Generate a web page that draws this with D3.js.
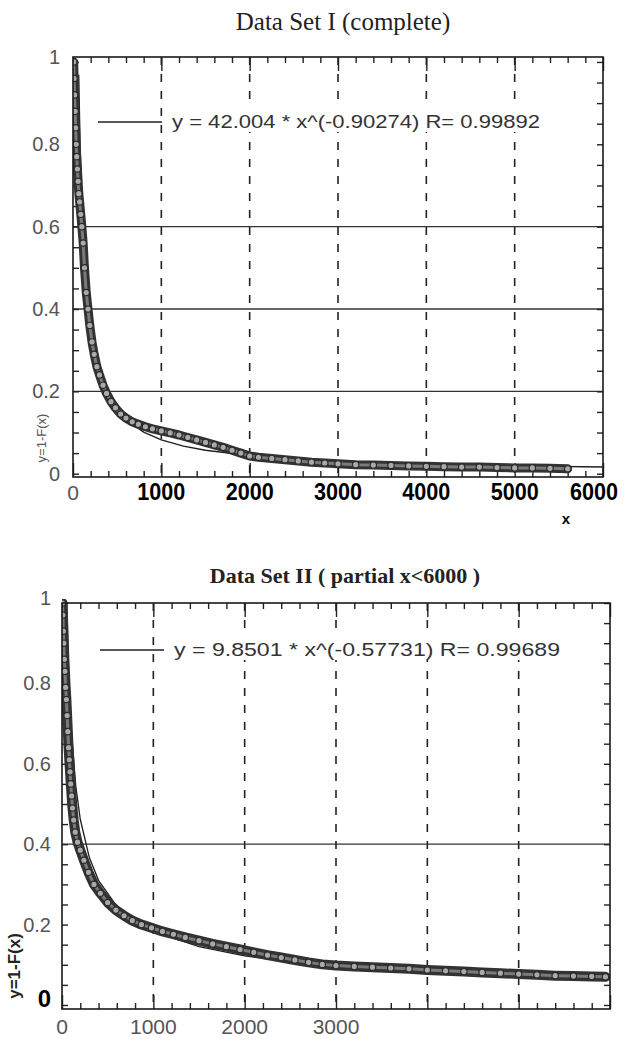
<!DOCTYPE html>
<html>
<head>
<meta charset="utf-8">
<script src="https://cdn.jsdelivr.net/npm/d3@7"></script>
<style>
  body { margin: 0; background: #fff; }
  svg { display: block; }
</style>
</head>
<body>
<svg id="chart" width="626" height="1042"></svg>
<script>
// ---- data ----
const titles = ["Data Set I (complete)", "Data Set II ( partial x<6000 )"];
const legendTexts = ["y = 42.004 * x^(-0.90274) R= 0.99892",
                     "y = 9.8501 * x^(-0.57731) R= 0.99689"];
const yTickValues = [0, 0.2, 0.4, 0.6, 0.8, 1];
const yTickLabels = ["0", "0.2", "0.4", "0.6", "0.8", "1"];
const xTickValuesOne = [0, 1000, 2000, 3000, 4000, 5000, 6000];
const xTickValuesTwo = [0, 1000, 2000, 3000];
const dashedX = [1000, 2000, 3000, 4000, 5000];
const guideYOne = [0.2, 0.4, 0.6];
const guideYTwo = [0.4];

// Set I, empirical 1-F(x)
const setOneX = [8, 12, 18, 24, 30, 36, 42, 50, 58, 66, 75, 88, 100, 115, 130, 150, 170, 190, 215, 240,
                 270, 300, 340, 380, 430, 480, 540, 600, 670, 740, 820, 900, 1000, 1100, 1200, 1300, 1400,
                 1500, 1600, 1700, 1800, 1900, 2000, 2100, 2250, 2400, 2550, 2700, 2850, 3000, 3200, 3400,
                 3600, 3800, 4000, 4200, 4400, 4600, 4800, 5000, 5200, 5400, 5600];
const setOneY = [1.0, 0.96, 0.92, 0.88, 0.84, 0.80, 0.77, 0.74, 0.71, 0.68, 0.66, 0.63, 0.60, 0.56, 0.50,
                 0.44, 0.40, 0.36, 0.32, 0.29, 0.26, 0.24, 0.215, 0.195, 0.175, 0.16, 0.145, 0.135, 0.126,
                 0.12, 0.114, 0.109, 0.104, 0.099, 0.094, 0.088, 0.082, 0.076, 0.07, 0.064, 0.057, 0.05,
                 0.043, 0.04, 0.037, 0.034, 0.031, 0.028, 0.026, 0.024, 0.022, 0.021, 0.02, 0.019, 0.018,
                 0.017, 0.016, 0.016, 0.015, 0.014, 0.014, 0.013, 0.012];
// Set I, fitted power curve
const fitOneX = [65, 80, 100, 130, 160, 200, 250, 300, 400, 500, 600, 800, 1000, 1250, 1500, 2000, 2500,
                 3000, 4000, 5000, 6000];
const fitOneY = [0.969, 0.804, 0.656, 0.519, 0.430, 0.352, 0.288, 0.244, 0.188, 0.154, 0.131, 0.101, 0.082,
                 0.067, 0.057, 0.044, 0.036, 0.0305, 0.0235, 0.0192, 0.0163];

// Set II, empirical 1-F(x)
const setTwoX = [5, 10, 15, 20, 26, 32, 40, 48, 56, 64, 72, 80, 88, 96, 105, 115, 128, 145, 170, 200, 240,
                 290, 350, 420, 500, 590, 680, 770, 870, 980, 1100, 1220, 1350, 1500, 1650, 1800, 1950, 2100,
                 2250, 2400, 2550, 2700, 2850, 3000, 3200, 3400, 3600, 3800, 4000, 4200, 4400, 4600, 4800,
                 5000, 5200, 5400, 5600, 5800, 5950];
const setTwoY = [1.0, 0.97, 0.93, 0.90, 0.86, 0.83, 0.79, 0.76, 0.72, 0.68, 0.64, 0.61, 0.58, 0.55, 0.52,
                 0.49, 0.46, 0.43, 0.405, 0.385, 0.36, 0.33, 0.30, 0.278, 0.255, 0.236, 0.222, 0.21, 0.2,
                 0.192, 0.183, 0.176, 0.168, 0.16, 0.152, 0.145, 0.138, 0.131, 0.124, 0.118, 0.112, 0.106,
                 0.101, 0.098, 0.096, 0.094, 0.092, 0.09, 0.087, 0.085, 0.083, 0.081, 0.079, 0.077, 0.075,
                 0.073, 0.072, 0.071, 0.07];
// Set II, fitted power curve
const fitTwoX = [53, 70, 100, 150, 200, 300, 400, 600, 800, 1000, 1500, 2000, 2500, 3000, 4000, 5000, 6000];
const fitTwoY = [1.0, 0.848, 0.692, 0.546, 0.462, 0.366, 0.310, 0.245, 0.208, 0.183, 0.145, 0.122, 0.107,
                 0.097, 0.082, 0.071, 0.065];

const svg = d3.select("#chart");

function drawPanel(p) {
    const x = d3.scaleLinear().domain([0, 6000]).range([p.left, p.right]);
    const y = d3.scaleLinear().domain(p.yDomain).range([p.bottom, p.top]);
    const g = svg.append("g").attr("class", "panel");

    // title
    g.append("text")
     .attr("x", p.titleX).attr("y", p.titleY)
     .attr("text-anchor", "middle")
     .style("font-family", "'Liberation Serif', 'DejaVu Serif', serif")
     .style("font-size", p.titleSize + "px")
     .style("font-weight", p.titleWeight)
     .style("fill", "#222")
     .text(p.title);

    // vertical dashed guides
    g.selectAll(".vdash").data(dashedX).join("line")
     .attr("x1", d => x(d)).attr("x2", d => x(d))
     .attr("y1", p.top).attr("y2", p.bottom)
     .style("stroke", "#222").style("stroke-width", 1.6)
     .style("stroke-dasharray", "8,9");

    // horizontal solid guides
    g.selectAll(".hline").data(p.guides).join("line")
     .attr("x1", p.left).attr("x2", p.right)
     .attr("y1", d => y(d)).attr("y2", d => y(d))
     .style("stroke", "#333").style("stroke-width", 1.3);

    // inward ticks on all four sides
    const minorX = d3.range(0, 6001, 200).filter(v => v % 1000 !== 0);
    const majorX = d3.range(0, 6001, 1000);
    const minorY = d3.range(0, 1.001, 0.05);
    const tickStyle = sel => {
        sel.select(".domain").remove();
        sel.selectAll("text").remove();
        sel.selectAll("line").style("stroke", "#222").style("stroke-width", 1.4);
    };
    g.append("g").attr("transform", `translate(0,${p.bottom})`)
     .call(d3.axisBottom(x).tickValues(minorX).tickSize(-6)).call(tickStyle);
    g.append("g").attr("transform", `translate(0,${p.bottom})`)
     .call(d3.axisBottom(x).tickValues(majorX).tickSize(-14)).call(tickStyle);
    g.append("g").attr("transform", `translate(0,${p.top})`)
     .call(d3.axisTop(x).tickValues(minorX).tickSize(-6)).call(tickStyle);
    g.append("g").attr("transform", `translate(0,${p.top})`)
     .call(d3.axisTop(x).tickValues(majorX).tickSize(-14)).call(tickStyle);
    g.append("g").attr("transform", `translate(${p.left},0)`)
     .call(d3.axisLeft(y).tickValues(minorY).tickSize(-6)).call(tickStyle);
    g.append("g").attr("transform", `translate(${p.right},0)`)
     .call(d3.axisRight(y).tickValues(minorY).tickSize(-6)).call(tickStyle);

    // data, clipped to the frame
    const clipId = "clip" + p.id;
    svg.append("clipPath").attr("id", clipId)
       .append("rect")
       .attr("x", p.left).attr("y", p.top - 4)
       .attr("width", p.right - p.left).attr("height", p.bottom - p.top + 4);
    const plot = g.append("g").attr("clip-path", `url(#${clipId})`);

    const pts = p.dataX.map((d, i) => [d, p.dataY[i]]);
    const fit = p.fitX.map((d, i) => [d, p.fitY[i]]);
    const line = d3.line().x(d => x(d[0])).y(d => y(d[1]));

    plot.append("path").datum(fit)
        .attr("d", line)
        .style("fill", "none").style("stroke", "#1e1e1e").style("stroke-width", 1.3);
    plot.append("path").datum(pts)
        .attr("d", line)
        .style("fill", "none").style("stroke", "#333")
        .style("stroke-width", p.bandWidth).style("stroke-linejoin", "round").style("stroke-linecap", "round");
    plot.append("path").datum(pts)
        .attr("d", line)
        .style("fill", "none").style("stroke", "#7a7a7a")
        .style("stroke-width", 3).style("stroke-linejoin", "round");
    plot.selectAll(".mk").data(pts).join("circle")
        .attr("cx", d => x(d[0])).attr("cy", d => y(d[1]))
        .attr("r", 3.2)
        .style("fill", "#a9a9a9").style("stroke", "#2a2a2a").style("stroke-width", 1.2);

    // frame
    g.append("rect")
     .attr("x", p.left).attr("y", p.top)
     .attr("width", p.right - p.left).attr("height", p.bottom - p.top)
     .style("fill", "none").style("stroke", "#1a1a1a").style("stroke-width", 1.6);

    // legend
    g.append("rect")
     .attr("x", p.legendX + 72).attr("y", p.legendY - 14)
     .attr("width", p.legendW).attr("height", 24)
     .style("fill", "#fff");
    g.append("line")
     .attr("x1", p.legendX).attr("x2", p.legendX + 64)
     .attr("y1", p.legendY).attr("y2", p.legendY)
     .style("stroke", "#222").style("stroke-width", 1.4);
    g.append("text")
     .attr("x", p.legendX + 74).attr("y", p.legendY + 6)
     .attr("textLength", p.legendW).attr("lengthAdjust", "spacingAndGlyphs")
     .style("font-family", "'Liberation Sans', Arial, sans-serif")
     .style("font-size", "19px").style("fill", "#333")
     .text(p.legend);

    // y tick labels
    const isBoldZero = d => p.boldZero && d === 0;
    g.selectAll(".ylab").data(yTickValues).join("text")
     .attr("x", p.yLabelX)
     .attr("y", d => y(d) + (isBoldZero(d) ? 2 : d === 1 ? 2 : 7))
     .attr("text-anchor", "end")
     .style("font-family", "'Liberation Sans', Arial, sans-serif")
     .style("font-size", d => (isBoldZero(d) ? 24 : 20) + "px")
     .style("font-weight", d => (isBoldZero(d) ? "bold" : "normal"))
     .style("fill", d => (isBoldZero(d) ? "#000" : "#555"))
     .text((d, i) => yTickLabels[i]);

    // x tick labels
    const isNarrow = d => p.narrowX && d > 0;
    const xl = g.selectAll(".xlab").data(p.xTicks).join("text")
     .attr("x", d => x(d) + (isNarrow(d) && d === 6000 ? -9 : 0))
     .attr("y", p.xLabelY)
     .attr("text-anchor", "middle")
     .style("font-family", "'Liberation Sans', Arial, sans-serif")
     .style("font-size", d => (isNarrow(d) ? 24 : 21) + "px")
     .style("font-weight", d => (isNarrow(d) ? "bold" : "normal"))
     .style("fill", d => (isNarrow(d) ? "#000" : "#555"))
     .text(d => d === 0 ? "0" : d3.format("d")(d));
    xl.filter(isNarrow)
      .attr("textLength", 48).attr("lengthAdjust", "spacingAndGlyphs");

    // y axis title, rotated
    g.append("text")
     .attr("transform", `translate(${p.yTitleX},${p.yTitleY}) rotate(-90)`)
     .attr("text-anchor", "middle")
     .style("font-family", "'Liberation Sans', Arial, sans-serif")
     .style("font-size", p.yTitleSize + "px")
     .style("font-weight", p.yTitleWeight)
     .style("fill", p.yTitleColor)
     .text("y=1-F(x)");

    if (p.xTitle) {
        g.append("text")
         .attr("x", p.xTitleX).attr("y", p.xTitleY)
         .attr("text-anchor", "middle")
         .style("font-family", "'Liberation Sans', Arial, sans-serif")
         .style("font-size", "15px").style("font-weight", "bold")
         .text("x");
    }
}

drawPanel({
    id: 1, title: titles[0], titleX: 343, titleY: 30, titleSize: 25, titleWeight: "normal",
    left: 73, right: 603, top: 57, bottom: 477, yDomain: [-0.008, 1.012],
    guides: guideYOne, dataX: setOneX, dataY: setOneY, fitX: fitOneX, fitY: fitOneY, bandWidth: 9,
    legend: legendTexts[0], legendX: 98, legendY: 122, legendW: 368,
    yLabelX: 60, boldZero: false,
    xTicks: xTickValuesOne, xLabelY: 500, narrowX: true,
    yTitleX: 46, yTitleY: 438, yTitleSize: 13, yTitleWeight: "normal", yTitleColor: "#555",
    xTitle: true, xTitleX: 566, xTitleY: 524
});

drawPanel({
    id: 2, title: titles[1], titleX: 345, titleY: 583, titleSize: 22, titleWeight: "bold",
    left: 62, right: 610, top: 603, bottom: 1009, yDomain: [-0.01, 1],
    guides: guideYTwo, dataX: setTwoX, dataY: setTwoY, fitX: fitTwoX, fitY: fitTwoY, bandWidth: 10,
    legend: legendTexts[1], legendX: 100, legendY: 650, legendW: 386,
    yLabelX: 51, boldZero: true,
    xTicks: xTickValuesTwo, xLabelY: 1034, narrowX: false,
    yTitleX: 20, yTitleY: 966, yTitleSize: 17, yTitleWeight: "bold", yTitleColor: "#222",
    xTitle: false
});
</script>
</body>
</html>
